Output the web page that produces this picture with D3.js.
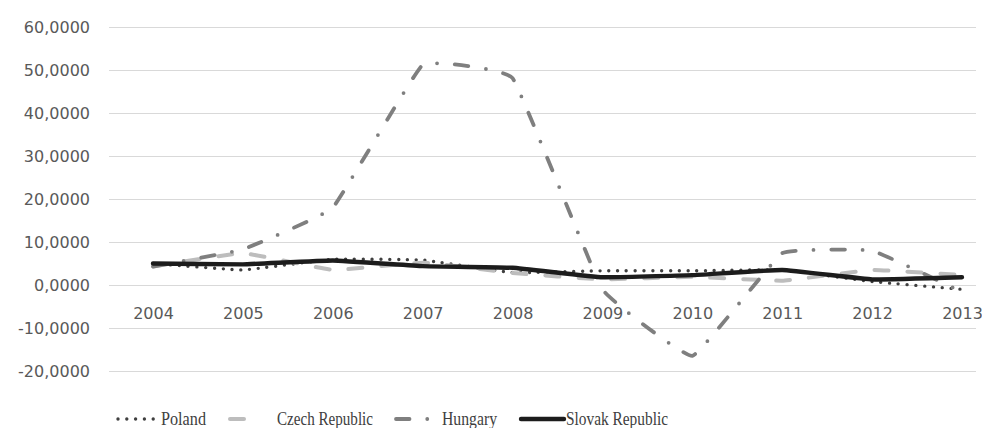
<!DOCTYPE html>
<html>
<head>
<meta charset="utf-8">
<script src="https://cdn.jsdelivr.net/npm/d3@7"></script>
<style>
  body { margin: 0; background: #fff; }
  svg { display: block; }
</style>
</head>
<body>
<div id="chart"></div>
<script>
// values
const years = ["2004", "2005", "2006", "2007", "2008", "2009", "2010", "2011", "2012", "2013"];
const poland = [5.0, 3.5, 6.0, 5.8, 2.9, 3.3, 3.3, 3.5, 0.8, -1.0];
const czech = [4.3, 7.4, 3.5, 5.2, 2.8, 1.3, 1.9, 1.0, 3.5, 2.3];
const hungary = [4.3, 8.3, 18.0, 51.2, 48.1, -1.0, -16.5, 7.4, 8.0, -1.6];
const slovak = [5.0, 4.8, 5.7, 4.4, 4.0, 1.8, 2.3, 3.5, 1.3, 1.8];
const yTicks = [-20, -10, 0, 10, 20, 30, 40, 50, 60];

const series = [
    { name: "Poland", values: poland, color: "#3f3f3f", width: 3.4, dash: "0 8.8" },
    { name: "Czech Republic", values: czech, color: "#bdbdbd", width: 4, dash: "14 19" },
    { name: "Hungary", values: hungary, color: "#7f7f7f", width: 3.8, dash: "13.5 17.75 0 17.75" },
    { name: "Slovak Republic", values: slovak, color: "#1c1c1c", width: 4.4, dash: null }
];

// legend placement
const legendItems = [
    { sx: 118, ex: 156, tx: 161, tw: 45 },
    { sx: 230, ex: 263, tx: 277, tw: 96 },
    { sx: 396, ex: 440, tx: 442, tw: 55 },
    { sx: 521, ex: 564, tx: 566, tw: 102 }
];

const width = 982, height = 428;
const plotLeft = 109, plotRight = 976;

const svg = d3.select("#chart")
    .append("svg")
    .attr("width", width)
    .attr("height", height);

const x = d3.scalePoint()
    .domain(years)
    .range([153, 962]);

const y = d3.scaleLinear()
    .domain([-20, 60])
    .range([371, 27]);

// gridlines
svg.append("g")
    .selectAll("line")
    .data(yTicks)
  .enter().append("line")
    .attr("x1", plotLeft)
    .attr("x2", plotRight)
    .attr("y1", d => Math.round(y(d)) + 0.5)
    .attr("y2", d => Math.round(y(d)) + 0.5)
    .attr("stroke", "#d9d9d9")
    .attr("stroke-width", 1);

// y axis labels
const yAxis = svg.append("g")
    .attr("transform", `translate(${plotLeft - 19},0)`)
    .call(d3.axisLeft(y).tickValues(yTicks).tickSize(0).tickPadding(0)
        .tickFormat(d => d3.format(".4f")(d).replace(".", ",").replace("−", "-")));
yAxis.select(".domain").remove();
yAxis.selectAll("text")
    .style("font-family", "'DejaVu Sans', sans-serif")
    .style("font-size", "16px")
    .style("fill", "#595959");

// category labels under the zero line
const xAxis = svg.append("g")
    .attr("transform", `translate(0,${y(0) + 23})`)
    .call(d3.axisBottom(x).tickSize(0).tickPadding(0));
xAxis.select(".domain").remove();
xAxis.selectAll("text")
    .style("font-family", "'DejaVu Sans', sans-serif")
    .style("font-size", "16px")
    .style("fill", "#595959");

// lightly smoothed lines
const line = d3.line()
    .x((d, i) => x(years[i]))
    .y(d => y(d))
    .curve(d3.curveCardinal.tension(0.75));

svg.append("g")
    .selectAll("path")
    .data(series)
  .enter().append("path")
    .attr("d", d => line(d.values))
    .attr("fill", "none")
    .attr("stroke", d => d.color)
    .attr("stroke-width", d => d.width)
    .attr("stroke-dasharray", d => d.dash)
    .attr("stroke-linecap", "round")
    .attr("stroke-linejoin", "round");

// legend
const legendY = 419;
const legend = svg.append("g");
series.forEach((s, i) => {
    const p = legendItems[i];
    legend.append("line")
        .attr("x1", p.sx).attr("x2", p.ex)
        .attr("y1", legendY).attr("y2", legendY)
        .attr("stroke", s.color)
        .attr("stroke-width", s.width)
        .attr("stroke-dasharray", s.dash)
        .attr("stroke-linecap", "round");
    legend.append("text")
        .attr("x", p.tx)
        .attr("y", legendY + 6)
        .attr("textLength", p.tw)
        .attr("lengthAdjust", "spacingAndGlyphs")
        .style("font-family", "'Liberation Serif', serif")
        .style("font-size", "18px")
        .style("fill", "#404040")
        .text(s.name);
});
</script>
</body>
</html>
